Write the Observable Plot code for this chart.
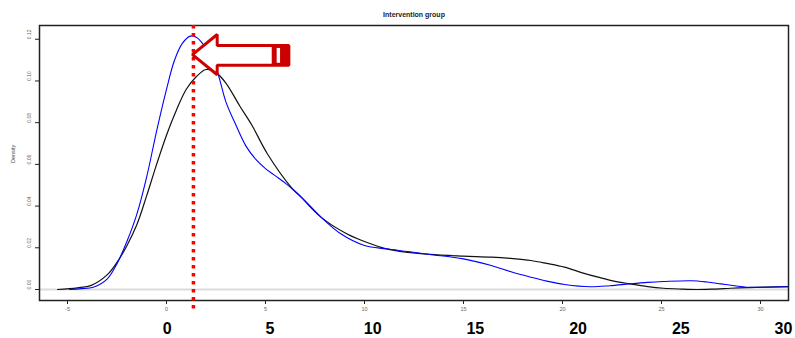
<!DOCTYPE html>
<html>
<head>
<meta charset="utf-8">
<script src="https://cdn.jsdelivr.net/npm/d3@7"></script>
<script src="https://cdn.jsdelivr.net/npm/@observablehq/plot@0.6"></script>
<style>
  body { margin: 0; background: white; }
  #wrap { position: relative; width: 795px; height: 338px; overflow: hidden; background: white; }
  #wrap svg { position: absolute; left: 0; }
</style>
</head>
<body>
<div id="wrap"></div>
<script>
// ---- data ----
const title = "Intervention group";
const yLabel = "Density";
const xTicks = [-5, 0, 5, 10, 15, 20, 25, 30];
const yTicks = [0, 0.02, 0.04, 0.06, 0.08, 0.10, 0.12];
const bigTicks = [0, 5, 10, 15, 20, 25, 30];

// black density curve
const blackX = [-5.5, -4.5, -3.8, -3.0, -2.5, -2.0, -1.5, -1.0, -0.5, 0.0, 0.5, 1.0, 1.5, 2.0, 2.5, 3.0, 3.7, 4.3, 5.1, 6.3, 6.8, 7.8, 9.1, 10.0, 11.1, 12.2, 13.3, 15.0, 16.4, 17.5, 18.4, 19.2, 20.1, 21.0, 21.8, 22.6, 23.4, 24.3, 25.1, 26.0, 26.8, 27.6, 28.5, 29.3, 30.2, 31.4];
const blackY = [0.0000, 0.0008, 0.0020, 0.0070, 0.0130, 0.0210, 0.0310, 0.0450, 0.0600, 0.0740, 0.0860, 0.0960, 0.1020, 0.1055, 0.1040, 0.0990, 0.0880, 0.0790, 0.0650, 0.0490, 0.0443, 0.0347, 0.0267, 0.0230, 0.0195, 0.0178, 0.0168, 0.0160, 0.0155, 0.0148, 0.0139, 0.0125, 0.0107, 0.0080, 0.0059, 0.0040, 0.0027, 0.0014, 0.0006, 0.0002, 0.0000, 0.0002, 0.0006, 0.0009, 0.0011, 0.0014];

// blue density curve
const blueX = [-4.9, -4.3, -3.7, -3.0, -2.5, -2.0, -1.5, -1.0, -0.5, 0.0, 0.4, 0.8, 1.2, 1.5, 1.9, 2.3, 2.6, 3.0, 3.5, 4.0, 4.5, 5.0, 5.5, 6.0, 6.5, 7.0, 7.8, 8.8, 10.0, 11.1, 12.2, 13.3, 15.0, 16.4, 17.4, 18.4, 19.2, 20.1, 21.4, 22.4, 23.4, 24.3, 25.1, 26.5, 27.3, 28.0, 28.7, 29.3, 30.3, 31.4];
const blueY = [0.0000, 0.0004, 0.0011, 0.0050, 0.0124, 0.0230, 0.0360, 0.0540, 0.0760, 0.0960, 0.1098, 0.1180, 0.1215, 0.1210, 0.1170, 0.1100, 0.1034, 0.0900, 0.0790, 0.0690, 0.0625, 0.0580, 0.0545, 0.0510, 0.0470, 0.0425, 0.0347, 0.0267, 0.0211, 0.0195, 0.0182, 0.0168, 0.0147, 0.0115, 0.0085, 0.0059, 0.0040, 0.0024, 0.0013, 0.0018, 0.0027, 0.0034, 0.0038, 0.0042, 0.0036, 0.0027, 0.0018, 0.0011, 0.0011, 0.0013];

// annotation: red dotted marker and block arrow (data units)
const markerX = 1.36;
const markerYEnds = [0.1266, -0.011];
const arrowX = [1.31, 2.56, 2.56, 6.18, 6.18, 2.56, 2.56];
const arrowY = [0.1126, 0.1223, 0.1170, 0.1170, 0.1075, 0.1075, 0.1030];
const arrowBlock = {x1: 5.34, x2: 6.18, y1: 0.1075, y2: 0.1170};
const arrowSlit = {x1: 5.59, x2: 5.76, y1: 0.1085, y2: 0.1156};

const xDomain = [-6.414, 31.414];
const yDomain = [-0.00528, 0.1266];

// ---- build ----
const black = blackX.map((x, i) => ({x, y: blackY[i]}));
const blue = blueX.map((x, i) => ({x, y: blueY[i]}));
const arrow = arrowX.map((x, i) => ({x, y: arrowY[i]}));
const fmt = d3.format(".2f");
const font = "'Liberation Sans', Arial, sans-serif";

const main = Plot.plot({
  width: 795, height: 338,
  marginLeft: 39, marginRight: 7, marginTop: 25, marginBottom: 38,
  x: {domain: xDomain},
  y: {domain: yDomain},
  style: {background: "white", fontFamily: font, overflow: "visible"},
  marks: [
    Plot.ruleY([0], {stroke: "#dcdcdc", strokeWidth: 2}),
    Plot.line(black, {x: "x", y: "y", curve: "catmull-rom", stroke: "#111", strokeWidth: 1.2}),
    Plot.line(blue, {x: "x", y: "y", curve: "catmull-rom", stroke: "#0000ff", strokeWidth: 1.1}),
    Plot.frame({stroke: "#222", strokeWidth: 1.5}),
    Plot.axisX({ticks: xTicks, tickSize: 4, tickPadding: 3, fontSize: 5.5, color: "#666", stroke: "#222", label: null, tickFormat: d => String(d)}),
    Plot.axisY({ticks: yTicks, tickSize: 4, stroke: "#222", label: null, tickFormat: () => ""}),
    Plot.text(yTicks, {y: d => d, frameAnchor: "left", dx: -10, rotate: -90, text: d => fmt(d), fontSize: 5, fill: "#666"}),
    Plot.text([yLabel], {frameAnchor: "left", dx: -26.5, rotate: -90, text: d => d, fontSize: 5.5, fill: "#444"}),
    Plot.text([title], {frameAnchor: "top", dy: -11, lineAnchor: "middle", text: d => d, fontSize: 7, fontWeight: "bold", fill: "#222"}),
    Plot.ruleX([markerX], {y1: markerYEnds[0], y2: markerYEnds[1], stroke: "#ff0000", strokeWidth: 3.5, strokeDasharray: "3.5,4.5"}),
    Plot.line(arrow, {x: "x", y: "y", curve: "linear-closed", fill: "white", stroke: "#cc0000", strokeWidth: 3, strokeLinejoin: "miter"}),
    Plot.rect([arrowBlock], {x1: "x1", x2: "x2", y1: "y1", y2: "y2", fill: "#cc0000"}),
    Plot.rect([arrowSlit], {x1: "x1", x2: "x2", y1: "y1", y2: "y2", fill: "white"})
  ]
});
main.style.top = "0px";

const big = Plot.plot({
  width: 795, height: 20,
  margin: 0,
  x: {domain: [0, 30], range: [166.7, 783], axis: null},
  y: {axis: null},
  style: {background: "transparent", fontFamily: font, overflow: "visible"},
  marks: [
    Plot.text(bigTicks, {x: d => d, frameAnchor: "middle", lineAnchor: "middle", text: d => String(d), fontSize: 16, fontWeight: "bold", fill: "#000"})
  ]
});
big.style.top = "318px";

const wrap = document.getElementById("wrap");
wrap.appendChild(main);
wrap.appendChild(big);
</script>
</body>
</html>
